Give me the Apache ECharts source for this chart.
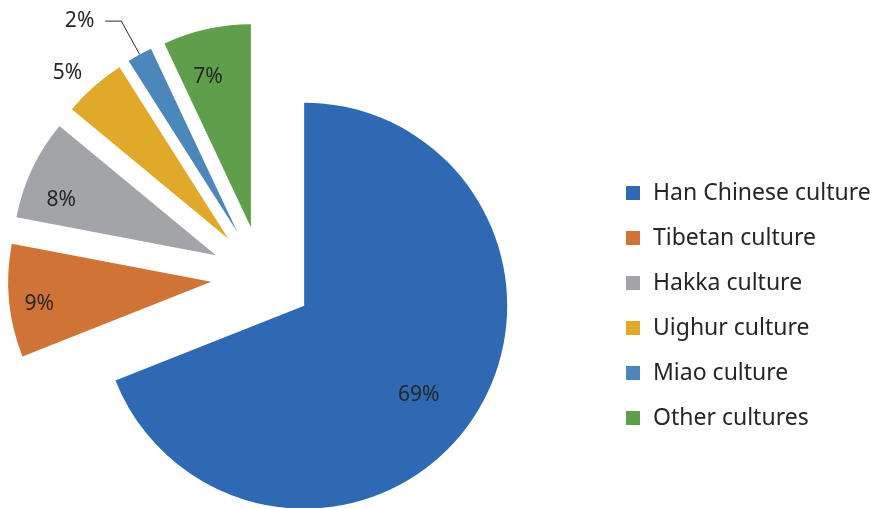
<!DOCTYPE html>
<html>
<head>
<meta charset="utf-8">
<script src="https://cdn.jsdelivr.net/npm/echarts@6/dist/echarts.min.js"></script>
<style>
  html, body { margin: 0; padding: 0; background: #fff; }
  #chart { width: 877px; height: 508px; }
</style>
</head>
<body>
<div id="chart"></div>
<script>
var cultures = ['Han Chinese culture', 'Tibetan culture', 'Hakka culture', 'Uighur culture', 'Miao culture', 'Other cultures'];
var shares = [69, 9, 8, 5, 2, 7];
var colors = ['#2F69B3', '#D07337', '#A3A4A8', '#E1A92A', '#4B87BB', '#5F9E4B'];

var radius = 203;
// inside labels: part of the radius, and a small turn in degrees
var labelSpot = [[0.70, 3.8], [0.84, -2], [0.795, -5.5], null, null, [0.755, -3.4]];

var total = shares.reduce(function (a, b) { return a + b; }, 0);
var midAngles = [];
var acc = 0;
shares.forEach(function (v) {
    midAngles.push((acc + v / 2) / total * Math.PI * 2);
    acc += v;
});

var pieData = cultures.map(function (name, i) {
    var item = {value: shares[i], name: name, selected: true, itemStyle: {color: colors[i]}};
    if (name === 'Uighur culture') {
        item.label = {position: 'outside', distanceToLabelLine: 0};
        item.labelLine = {show: false, length: 18, length2: 0};
    }
    if (name === 'Miao culture') {
        item.label = {position: 'outside', distanceToLabelLine: 11};
        item.labelLine = {show: true, length: 38, length2: 16, lineStyle: {color: '#262626', width: 1}};
    }
    return item;
});

var chart = echarts.init(document.getElementById('chart'));
var option = {
    animation: false,
    textStyle: {fontFamily: 'Noto Sans'},
    legend: {
        orient: 'vertical',
        left: 626,
        top: 181,
        padding: 0,
        icon: 'rect',
        itemWidth: 14,
        itemHeight: 14,
        itemGap: 21,
        selectedMode: false,
        data: cultures,
        textStyle: {
            fontFamily: 'Noto Sans',
            fontSize: 23,
            lineHeight: 24,
            color: '#262626',
            padding: [0, 0, 0, 8]
        }
    },
    series: [
        {
            type: 'pie',
            center: [262, 277],
            radius: radius,
            startAngle: 90,
            clockwise: true,
            selectedMode: 'multiple',
            selectedOffset: 51,
            avoidLabelOverlap: false,
            emphasis: {disabled: true},
            label: {
                show: true,
                position: 'inside',
                formatter: '{c}%',
                fontFamily: 'Noto Sans',
                fontSize: 21,
                color: '#262626'
            },
            labelLayout: function (params) {
                var i = params.dataIndex;
                var spot = labelSpot[i];
                if (!spot) {
                    return {};
                }
                var a0 = midAngles[i];
                var a1 = a0 + spot[1] * Math.PI / 180;
                var r1 = spot[0] * radius;
                var r0 = 0.5 * radius;
                return {
                    dx: Math.sin(a1) * r1 - Math.sin(a0) * r0,
                    dy: -Math.cos(a1) * r1 + Math.cos(a0) * r0
                };
            },
            data: pieData
        }
    ]
};
chart.setOption(option);
</script>
</body>
</html>
